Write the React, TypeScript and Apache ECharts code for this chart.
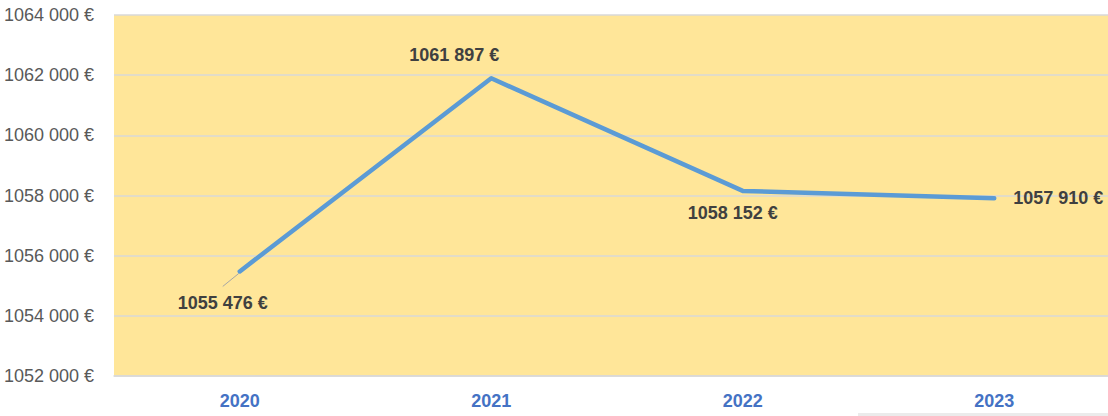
import React, { useEffect, useRef } from "react";
import * as echarts from "echarts";

const categories = ["2020", "2021", "2022", "2023"];
const values = [1055476, 1061897, 1058152, 1057910];
const labelTexts = ["1055 476 €", "1061 897 €", "1058 152 €", "1057 910 €"];
const labelOffsets = [
  [-17, 32],
  [-37, -23],
  [-10, 22],
  [64, 0],
];

const FONT = "'Liberation Sans Narrow', 'Arial Narrow', 'Liberation Sans', Arial, sans-serif";

function fmtAxis(v: number): string {
  const s = Math.round(v).toString();
  return s.slice(0, s.length - 3) + " " + s.slice(s.length - 3) + " €";
}

export default function App() {
  const ref = useRef<HTMLDivElement>(null);
  useEffect(() => {
    if (!ref.current) return;
    const chart = echarts.init(ref.current, undefined, { renderer: "svg" });
    chart.setOption({
      animation: false,
      backgroundColor: "#ffffff",
      grid: {
        left: 114,
        right: -12,
        top: 15,
        bottom: 40,
        show: true,
        backgroundColor: "#FFE699",
        borderWidth: 0,
        containLabel: false,
        outerBoundsMode: "none",
      },
      xAxis: {
        type: "category",
        data: categories,
        boundaryGap: true,
        axisLine: { show: true, lineStyle: { color: "#d9d9d9", width: 1.5 } },
        axisTick: { show: false },
        axisLabel: {
          color: "#4472C4",
          fontFamily: FONT,
          fontWeight: "bold",
          fontSize: 18,
          margin: 16,
        },
      },
      yAxis: {
        type: "value",
        min: 1052000,
        max: 1064000,
        interval: 2000,
        axisLine: { show: false },
        axisTick: { show: false },
        splitLine: { lineStyle: { color: "#d9d9d9", width: 1.5 } },
        axisLabel: {
          color: "#595959",
          fontFamily: FONT,
          fontSize: 18,
          margin: 20,
          formatter: (v: number) => fmtAxis(v),
        },
      },
      series: [
        {
          type: "line",
          data: values.map((v, i) => ({
            value: v,
            label: {
              show: true,
              formatter: labelTexts[i],
              position: "inside",
              offset: labelOffsets[i],
            },
          })),
          symbol: "circle",
          symbolSize: 1,
          showSymbol: true,
          itemStyle: { color: "rgba(91,155,213,0)", borderWidth: 0 },
          lineStyle: { color: "#5B9BD5", width: 4.5, cap: "round", join: "round" },
          label: {
            show: true,
            color: "#404040",
            fontFamily: FONT,
            fontWeight: "bold",
            fontSize: 18,
            align: "center",
            verticalAlign: "middle",
          },
          emphasis: { disabled: true },
        },
      ],
    });
    const p = chart.convertToPixel({ gridIndex: 0 }, [0, values[0]]) as number[];
    chart.setOption({
      graphic: [
        {
          type: "rect",
          shape: { x: 858, y: 413, width: 260, height: 3 },
          style: { fill: "#ebebeb" },
        },
        {
          type: "line",
          shape: { x1: p[0] - 17, y1: p[1] + 15, x2: p[0] - 1, y2: p[1] + 2 },
          style: { stroke: "#a6a6a6", lineWidth: 1 },
          z: 1,
        },
      ],
    });
    return () => chart.dispose();
  }, []);
  return (
    <div
      ref={ref}
      style={{ position: "absolute", left: 0, top: 0, width: 1108, height: 416 }}
    />
  );
}
